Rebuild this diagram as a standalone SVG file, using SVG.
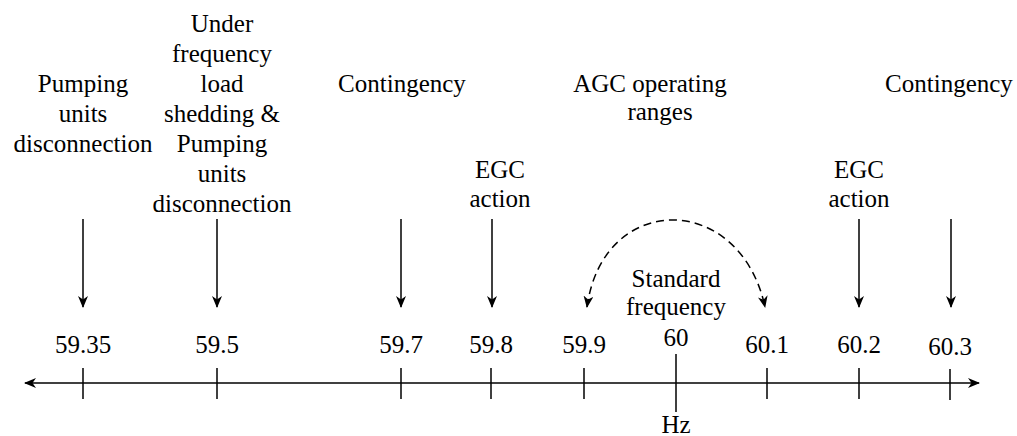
<svg xmlns="http://www.w3.org/2000/svg" width="1017" height="436" viewBox="0 0 1017 436">
<style>
text{font-family:'Liberation Serif','DejaVu Serif',serif;font-size:25px;fill:#000;text-anchor:middle}
.ln{stroke:#000;stroke-width:1.5;fill:none}
.dash{stroke:#000;stroke-width:1.5;fill:none;stroke-dasharray:8 5}
</style>
<defs>
<marker id="ah" viewBox="0 0 12 10" refX="11" refY="5" markerWidth="12" markerHeight="10" markerUnits="userSpaceOnUse" orient="auto-start-reverse">
<path d="M0,0 L12,5 L0,10 L3.5,5 z" fill="#000"/>
</marker>
</defs>
<rect width="1017" height="436" fill="#fff"/>
<g id="connectors">
<line class="ln" x1="25" y1="383" x2="979" y2="383" marker-start="url(#ah)" marker-end="url(#ah)"/>
<line class="ln" x1="83" y1="368" x2="83" y2="399"/>
<line class="ln" x1="217" y1="368" x2="217" y2="399"/>
<line class="ln" x1="401" y1="368" x2="401" y2="399"/>
<line class="ln" x1="491" y1="368" x2="491" y2="399"/>
<line class="ln" x1="584" y1="368" x2="584" y2="399"/>
<line class="ln" x1="676" y1="354" x2="676" y2="412"/>
<line class="ln" x1="767" y1="368" x2="767" y2="399"/>
<line class="ln" x1="859" y1="368" x2="859" y2="399"/>
<line class="ln" x1="950" y1="369" x2="950" y2="400"/>
<line class="ln" x1="83" y1="219" x2="83" y2="307" marker-end="url(#ah)"/>
<line class="ln" x1="217" y1="219" x2="217" y2="307" marker-end="url(#ah)"/>
<line class="ln" x1="401" y1="219" x2="401" y2="307" marker-end="url(#ah)"/>
<line class="ln" x1="492" y1="219" x2="492" y2="307" marker-end="url(#ah)"/>
<line class="ln" x1="859" y1="219" x2="859" y2="307" marker-end="url(#ah)"/>
<line class="ln" x1="951" y1="219" x2="951" y2="307" marker-end="url(#ah)"/>
<path class="dash" d="M587,307 C603,191 740,191 765,307" marker-start="url(#ah)" marker-end="url(#ah)"/>
</g>
<g font-family="Liberation Serif, DejaVu Serif, serif">
<g id="pumping">
<text x="83" y="92">Pumping</text>
<text x="83" y="122">units</text>
<text x="83" y="152">disconnection</text>
</g>
<g id="underfreq">
<text x="222" y="32">Under</text>
<text x="222" y="62">frequency</text>
<text x="222" y="92">load</text>
<text x="222" y="122">shedding &amp;</text>
<text x="222" y="152">Pumping</text>
<text x="222" y="182">units</text>
<text x="222" y="212">disconnection</text>
</g>
<g id="contingency1"><text x="402" y="92">Contingency</text></g>
<g id="egc1"><text x="500" y="178">EGC</text><text x="500" y="207">action</text></g>
<g id="agc"><text x="650" y="92">AGC operating</text><text x="660" y="120">ranges</text></g>
<g id="contingency2"><text x="949" y="92">Contingency</text></g>
<g id="egc2"><text x="859" y="178">EGC</text><text x="859" y="207">action</text></g>
<g id="standard"><text x="676" y="287">Standard</text><text x="676" y="315">frequency</text></g>
<g id="labels">
<text x="83" y="353">59.35</text>
<text x="217" y="353">59.5</text>
<text x="401" y="353">59.7</text>
<text x="491" y="353">59.8</text>
<text x="584" y="353">59.9</text>
<text x="676" y="346">60</text>
<text x="767" y="353">60.1</text>
<text x="859" y="353">60.2</text>
<text x="950" y="355">60.3</text>
<text x="676" y="433">Hz</text>
</g>
</g>
</svg>
